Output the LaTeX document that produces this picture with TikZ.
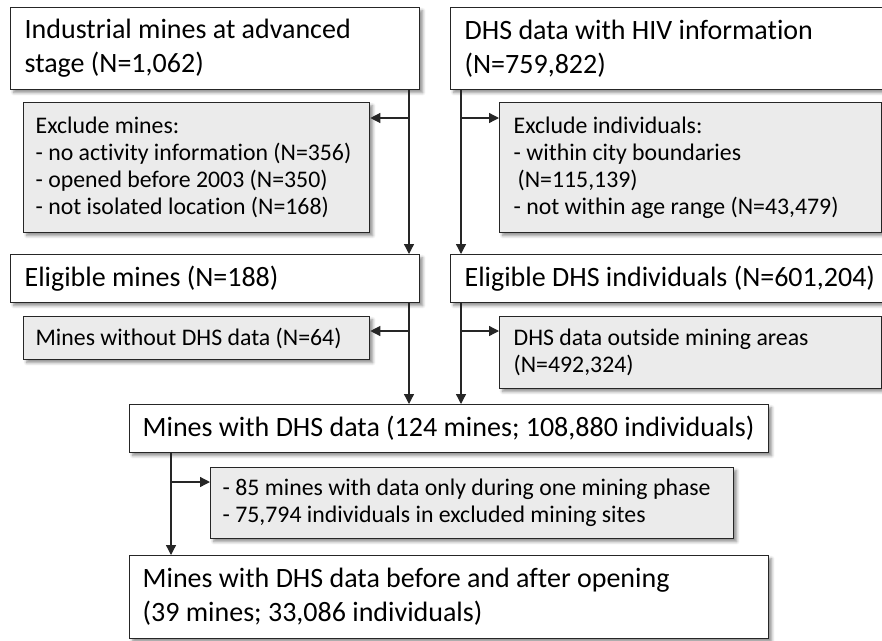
\documentclass[tikz,border=0pt]{standalone}
\usepackage{fontspec}
\setmainfont[Ligatures={NoCommon}]{Carlito}
\usetikzlibrary{arrows.meta,shadows.blur,calc}
\definecolor{bordc}{HTML}{262626}
\definecolor{greyf}{HTML}{EBEBEB}
\begin{document}
\begin{tikzpicture}[x=1pt,y=-1pt,
  base/.style={draw=bordc,line width=1.3pt,anchor=north west,inner ysep=0pt,align=flush left,
    blur shadow={shadow xshift=3pt,shadow yshift=-3pt,shadow blur steps=6,shadow opacity=45,shadow blur radius=3pt}},
  bigbox/.style={base,fill=white,font=\fontsize{28}{34}\selectfont},
  smallbox/.style={base,fill=greyf,font=\fontsize{23.8}{27}\selectfont},
  line/.style={draw=bordc,line width=1.3pt},
  arr/.style={line,-{Triangle[length=10pt,width=10pt]}}]
\useasboundingbox (0,0) rectangle (882,640);
% row 1
\node[bigbox,minimum width=409pt,minimum height=82pt,text width=381pt,inner xsep=14pt] (A) at (10,7)
  {\mbox{Industrial mines at advanced}\\stage (N=1,062)};
\node[bigbox,minimum width=445pt,minimum height=82pt,text width=417pt,inner xsep=14pt] (C) at (450,7)
  {DHS data with HIV information\\(N=759,822)};
\node[smallbox,minimum width=346pt,minimum height=130pt,text width=322pt,inner xsep=12pt] (B) at (23,102)
  {Exclude mines:\\\mbox{- no activity information (N=356)}\\- opened before 2003 (N=350)\\- not isolated location (N=168)};
\node[smallbox,minimum width=382pt,minimum height=130pt,text width=354pt,inner xsep=14pt] (D) at (499,102)
  {Exclude individuals:\\- within city boundaries\\\hspace*{4pt}(N=115,139)\\\mbox{- not within age range (N=43,479)}};
% row 2
\node[bigbox,minimum width=409pt,minimum height=48pt,text width=381pt,inner xsep=14pt] (M2) at (10,254)
  {Eligible mines (N=188)};
\node[bigbox,minimum width=445pt,minimum height=48pt,text width=417pt,inner xsep=14pt] (D2) at (450,254)
  {\mbox{Eligible DHS individuals (N=601,204)}};
\node[smallbox,minimum width=346pt,minimum height=43pt,text width=322pt,inner xsep=12pt] (MW) at (23,316)
  {Mines without DHS data (N=64)};
\node[smallbox,minimum width=382pt,minimum height=72pt,text width=354pt,inner xsep=14pt] (DO) at (499,316)
  {DHS data outside mining areas\\(N=492,324)};
% row 3
\node[bigbox,minimum width=639pt,minimum height=48pt,text width=613pt,inner xsep=13pt] (E) at (129,404)
  {\mbox{Mines with DHS data (124 mines; 108,880 individuals)}};
\node[smallbox,minimum width=523pt,minimum height=71pt,text width=499pt,inner xsep=12pt] (F) at (210,467)
  {\mbox{- 85 mines with data only during one mining phase}\\\mbox{- 75,794 individuals in excluded mining sites}};
\node[bigbox,minimum width=639pt,minimum height=83pt,text width=613pt,inner xsep=13pt] (G) at (129,555)
  {\mbox{Mines with DHS data before and after opening}\\(39 mines; 33,086 individuals)};
% connector guides
\coordinate (xL) at (409,0);
\coordinate (xR) at (461,0);
\coordinate (xE) at (171,0);
\coordinate (bB) at ($(B.north east)+(0,16)$);
\coordinate (bD) at ($(D.north west)+(0,16)$);
\coordinate (bMW) at ($(MW.north east)+(0,15)$);
\coordinate (bDO) at ($(DO.north west)+(0,15)$);
\coordinate (bF) at ($(F.north west)+(0,15)$);
% connectors
\draw[arr] (A.south -| xL) -- (M2.north -| xL);
\draw[arr] (xL |- bB) -- (bB);
\draw[arr] (C.south -| xR) -- (D2.north -| xR);
\draw[arr] (xR |- bD) -- (bD);
\draw[arr] (M2.south -| xL) -- (E.north -| xL);
\draw[arr] (xL |- bMW) -- (bMW);
\draw[arr] (D2.south -| xR) -- (E.north -| xR);
\draw[arr] (xR |- bDO) -- (bDO);
\draw[arr] (E.south -| xE) -- (G.north -| xE);
\draw[arr] (xE |- bF) -- (bF);
\end{tikzpicture}
\end{document}
